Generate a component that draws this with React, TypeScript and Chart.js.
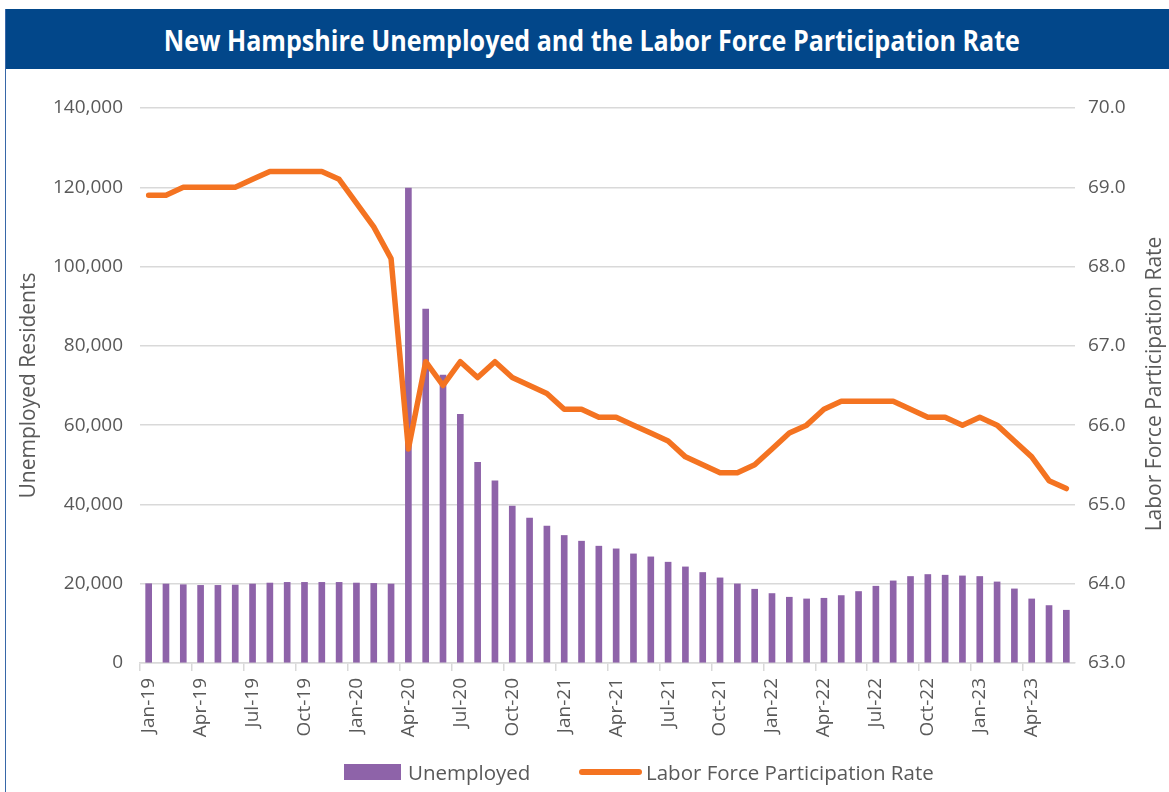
import React, { useEffect, useRef } from 'react';
import { Chart, registerables } from 'chart.js';

Chart.register(...registerables);

const months = [
  'Jan-19', 'Feb-19', 'Mar-19', 'Apr-19', 'May-19', 'Jun-19', 'Jul-19', 'Aug-19', 'Sep-19', 'Oct-19', 'Nov-19', 'Dec-19',
  'Jan-20', 'Feb-20', 'Mar-20', 'Apr-20', 'May-20', 'Jun-20', 'Jul-20', 'Aug-20', 'Sep-20', 'Oct-20', 'Nov-20', 'Dec-20',
  'Jan-21', 'Feb-21', 'Mar-21', 'Apr-21', 'May-21', 'Jun-21', 'Jul-21', 'Aug-21', 'Sep-21', 'Oct-21', 'Nov-21', 'Dec-21',
  'Jan-22', 'Feb-22', 'Mar-22', 'Apr-22', 'May-22', 'Jun-22', 'Jul-22', 'Aug-22', 'Sep-22', 'Oct-22', 'Nov-22', 'Dec-22',
  'Jan-23', 'Feb-23', 'Mar-23', 'Apr-23', 'May-23', 'Jun-23',
];

const unemployed = [
  20000, 19920, 19750, 19580, 19580, 19670, 19920, 20170, 20340, 20340, 20340, 20340,
  20170, 20080, 19920, 119800, 89250, 72650, 62730, 50600, 45960, 39570, 36540, 34520,
  32170, 30730, 29470, 28790, 27520, 26770, 25430, 24240, 22830, 21470, 19950, 18610,
  17520, 16590, 16160, 16330, 17010, 18030, 19370, 20710, 21820, 22320, 22150, 21970,
  21820, 20450, 18690, 16160, 14490, 13310,
];

const participationRate = [
  68.9, 68.9, 69.0, 69.0, 69.0, 69.0, 69.1, 69.2, 69.2, 69.2, 69.2, 69.1,
  68.8, 68.5, 68.1, 65.7, 66.8, 66.5, 66.8, 66.6, 66.8, 66.6, 66.5, 66.4,
  66.2, 66.2, 66.1, 66.1, 66.0, 65.9, 65.8, 65.6, 65.5, 65.4, 65.4, 65.5,
  65.7, 65.9, 66.0, 66.2, 66.3, 66.3, 66.3, 66.3, 66.2, 66.1, 66.1, 66.0,
  66.1, 66.0, 65.8, 65.6, 65.3, 65.2,
];

const TITLE = 'New Hampshire Unemployed and the Labor Force Participation Rate';
const BAR_LABEL = 'Unemployed';
const LINE_LABEL = 'Labor Force Participation Rate';
const LEFT_TITLE = 'Unemployed Residents';
const RIGHT_TITLE = 'Labor Force Participation Rate';

const PURPLE = '#8e63a9';
const ORANGE = '#f47321';
const GRID = '#d9d9d9';
const TEXT = '#595959';
const FONT = "'Open Sans', sans-serif";

export default function App() {
  const ref = useRef<HTMLCanvasElement>(null);

  useEffect(() => {
    if (!ref.current) return;
    Chart.defaults.font.family = FONT;
    Chart.defaults.color = TEXT;

    const chart = new Chart(ref.current, {
      type: 'bar',
      data: {
        labels: months,
        datasets: [
          {
            type: 'line',
            label: LINE_LABEL,
            data: participationRate,
            yAxisID: 'y1',
            borderColor: ORANGE,
            backgroundColor: ORANGE,
            borderWidth: 5.5,
            pointRadius: 0,
            tension: 0,
            borderCapStyle: 'round',
            borderJoinStyle: 'round',
          } as any,
          {
            type: 'bar',
            label: BAR_LABEL,
            data: unemployed,
            yAxisID: 'y',
            backgroundColor: PURPLE,
            barThickness: 6,
          } as any,
        ],
      },
      options: {
        responsive: false,
        animation: false,
        layout: { padding: { top: 39, bottom: 49, left: 0, right: 0 } },
        plugins: {
          tooltip: { enabled: false },
          legend: { display: false },
        },
        scales: {
          x: {
            type: 'category',
            offset: true,
            grid: {
              offset: true,
              drawOnChartArea: false,
              drawTicks: true,
              tickLength: 8,
              lineWidth: 1.5,
              color: (c: any) => (c.index % 3 === 0 ? GRID : 'rgba(0,0,0,0)'),
            },
            border: { display: true, color: GRID, width: 1.5 },
            ticks: {
              autoSkip: false,
              maxRotation: 90,
              minRotation: 90,
              padding: 7,
              color: TEXT,
              font: { size: 19 },
              callback: (_v: any, i: number) => (i % 3 === 0 ? months[i] : ''),
            },
            afterFit: (s: any) => {
              s.height = 80;
            },
          },
          y: {
            position: 'left',
            min: 0,
            max: 140000,
            ticks: {
              stepSize: 20000,
              padding: 17,
              color: TEXT,
              font: { size: 19 },
              callback: (v: any) => Number(v).toLocaleString('en-US'),
            },
            grid: { color: GRID, lineWidth: 1.5, drawTicks: false },
            border: { display: false },
            title: {
              display: true,
              text: LEFT_TITLE,
              color: TEXT,
              font: { size: 21 },
              padding: { top: 16, bottom: 0 },
            },
            afterFit: (s: any) => {
              s.width = 140;
            },
          },
          y1: {
            position: 'right',
            min: 63,
            max: 70,
            ticks: {
              stepSize: 1,
              padding: 13,
              color: TEXT,
              font: { size: 19 },
              callback: (v: any) => Number(v).toFixed(1),
            },
            grid: { drawOnChartArea: false, drawTicks: false },
            border: { display: false },
            afterFit: (s: any) => {
              s.width = 94;
            },
          },
        },
      },
    } as any);

    return () => chart.destroy();
  }, []);

  const legendText: React.CSSProperties = {
    position: 'absolute',
    top: 758,
    height: 28,
    lineHeight: '28px',
    fontFamily: FONT,
    fontSize: 20.5,
    color: TEXT,
    whiteSpace: 'nowrap',
  };

  return (
    <div style={{ position: 'absolute', left: 0, top: 0, width: 1169, height: 792, overflow: 'hidden', background: '#ffffff' }}>
      <div style={{ position: 'absolute', left: 5, top: 9, width: 1200, height: 800, borderLeft: '1px solid #3767a8' }} />
      <div
        style={{
          position: 'absolute',
          left: 6,
          top: 9,
          width: 1163,
          height: 60,
          background: '#02478a',
          display: 'flex',
          alignItems: 'center',
          justifyContent: 'center',
          paddingLeft: 9,
          boxSizing: 'border-box',
        }}
      >
        <span
          style={{
            display: 'inline-block',
            color: '#ffffff',
            fontFamily: FONT,
            fontWeight: 700,
            fontSize: 29,
            whiteSpace: 'nowrap',
            transform: 'scaleX(0.865)',
          }}
        >
          {TITLE}
        </span>
      </div>
      <div style={{ position: 'absolute', left: 0, top: 69, width: 1169, height: 723 }}>
        <canvas ref={ref} width={1169} height={723} style={{ display: 'block' }} />
      </div>
      <div
        style={{
          position: 'absolute',
          left: 1153 - 200,
          top: 384 - 15,
          width: 400,
          height: 30,
          lineHeight: '30px',
          textAlign: 'center',
          fontFamily: FONT,
          fontSize: 21,
          color: TEXT,
          transform: 'translateX(-0px) rotate(-90deg)',
          transformOrigin: '200px 15px',
          whiteSpace: 'nowrap',
        }}
      >
        {RIGHT_TITLE}
      </div>
      <div style={{ position: 'absolute', left: 344, top: 764, width: 57, height: 16, background: PURPLE }} />
      <div style={{ ...legendText, left: 408 }}>{BAR_LABEL}</div>
      <div style={{ position: 'absolute', left: 579, top: 769, width: 63, height: 6, borderRadius: 3, background: ORANGE }} />
      <div style={{ ...legendText, left: 646 }}>{LINE_LABEL}</div>
    </div>
  );
}
